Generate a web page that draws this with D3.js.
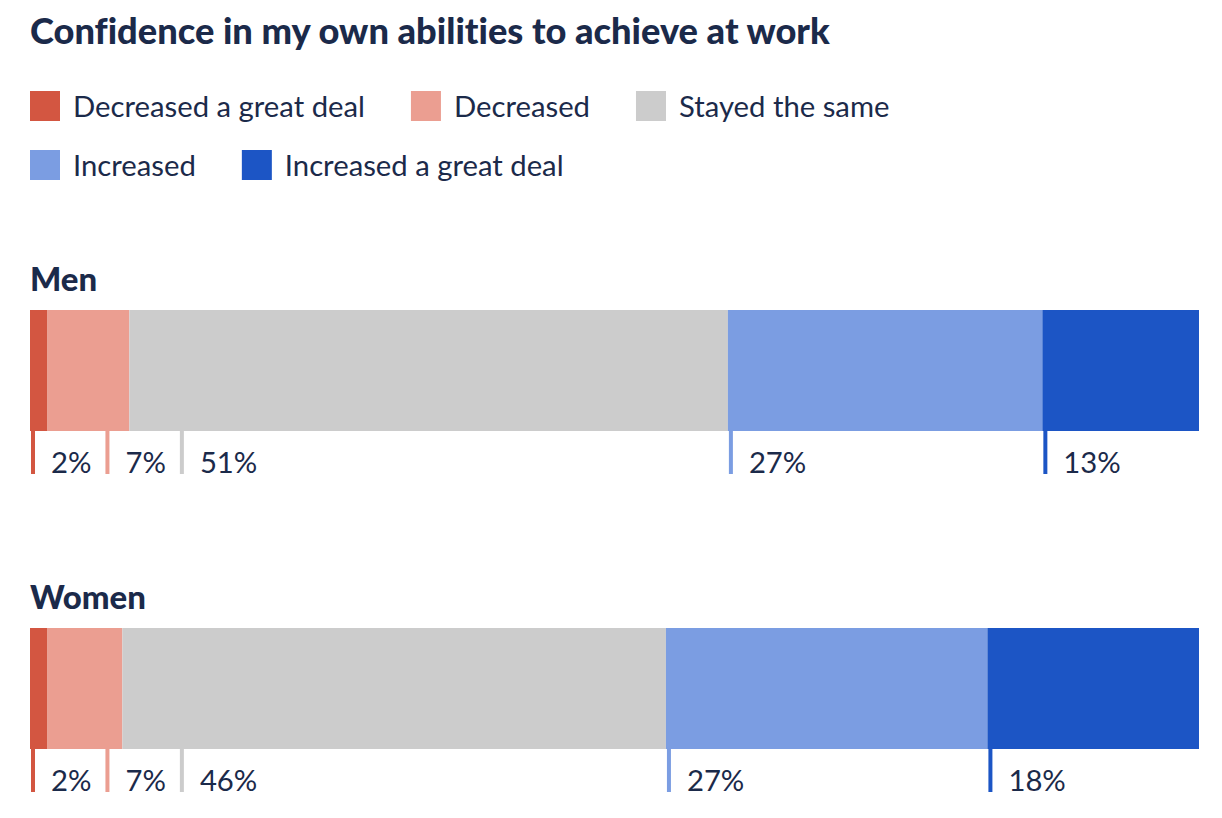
<!DOCTYPE html>
<html><head><meta charset="utf-8">
<script src="https://cdn.jsdelivr.net/npm/d3@7"></script>
<style>
html,body{margin:0;padding:0;background:#fff;}
svg{display:block;}
svg text{font-variant-ligatures:none;font-feature-settings:"liga" 0;}
</style></head>
<body>
<svg id="chart" width="1222" height="818"></svg>
<script>
const title = "Confidence in my own abilities to achieve at work";
const categories = ["Decreased a great deal","Decreased","Stayed the same","Increased","Increased a great deal"];
const colors = ["#d35641","#eb9e91","#cccccc","#7b9de2","#1c55c5"];
const legendRows = [[0,1,2],[3,4]];
const groups = ["Men","Women"];
const menValues = [1.5, 7.0, 51.2, 26.9, 13.4];
const womenValues = [1.5, 6.4, 46.5, 27.5, 18.1];
const menLabels = ["2%","7%","51%","27%","13%"];
const womenLabels = ["2%","7%","46%","27%","18%"];

const seriesValues = [menValues, womenValues];
const seriesLabels = [menLabels, womenLabels];

const ink = "#1b2a4a";
const bodyFont = "Lato, 'Noto Sans', sans-serif";
const titleFont = "Lato, 'Noto Sans', sans-serif";

const svg = d3.select("#chart");

function fitSize(text, family, weight, target){
  const t = svg.append("text").attr("font-family", family).attr("font-weight", weight)
    .attr("font-size", 100).text(text);
  const w = t.node().getComputedTextLength();
  t.remove();
  return 100 * target / w;
}
const titleSize = fitSize(title, titleFont, 900, 800);
const bodySize = fitSize("Decreased a great deal", bodyFont, 400, 292);

svg.append("text").attr("x", 30).attr("y", 44)
  .attr("font-family", titleFont).attr("font-weight", 900)
  .attr("font-size", titleSize).attr("fill", ink).text(title);

// legend
const legendBase = [117, 176];
legendRows.forEach((row, ri) => {
  let x = 30;
  row.forEach(ci => {
    svg.append("rect").attr("x", x).attr("y", legendBase[ri] - 26)
      .attr("width", 30).attr("height", 30).attr("fill", colors[ci]);
    const t = svg.append("text").attr("x", x + 43).attr("y", legendBase[ri])
      .attr("font-family", bodyFont).attr("font-size", bodySize).attr("fill", ink)
      .text(categories[ci]);
    x = x + 43 + t.node().getComputedTextLength() + 46;
  });
});

// bars
const xScale = d3.scaleLinear().domain([0, 100]).range([30, 1199]);
const groupLabelY = [291, 609];
const barTop = [310, 628];
const barH = 121;
const tickLen = 43;

groups.forEach((g, gi) => {
  svg.append("text").attr("x", 30).attr("y", groupLabelY[gi])
    .attr("font-family", titleFont).attr("font-weight", 900)
    .attr("font-size", titleSize * 0.91).attr("fill", ink).text(g);

  const vals = seriesValues[gi];
  const stacked = [];
  let acc = 0;
  vals.forEach((v, i) => { stacked.push({i, x0: acc, x1: acc + v, v}); acc += v; });

  const gg = svg.append("g");
  gg.selectAll("rect.seg").data(stacked).join("rect").attr("class","seg")
    .attr("x", d => xScale(d.x0))
    .attr("width", d => xScale(d.x1) - xScale(d.x0))
    .attr("y", barTop[gi]).attr("height", barH)
    .attr("fill", d => colors[d.i]);

  let prevEnd = -Infinity;
  const bottom = barTop[gi] + barH;
  stacked.forEach(d => {
    const tx = Math.max(xScale(d.x0) + 1, prevEnd + 14);
    gg.append("rect").attr("x", tx).attr("y", bottom)
      .attr("width", 4).attr("height", tickLen).attr("fill", colors[d.i]);
    const t = gg.append("text").attr("x", tx + 20).attr("y", bottom + 42)
      .attr("font-family", bodyFont).attr("font-size", bodySize).attr("fill", ink)
      .text(seriesLabels[gi][d.i]);
    prevEnd = tx + 20 + t.node().getComputedTextLength();
  });
});
</script>
</body></html>
